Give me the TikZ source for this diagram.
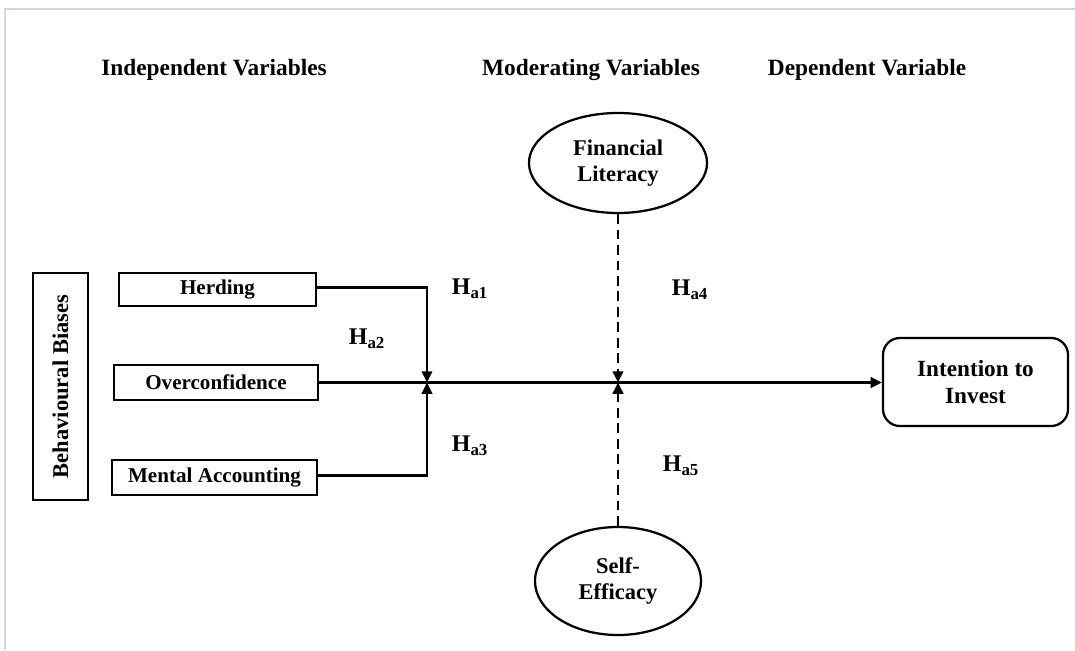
\documentclass[tikz,border=0pt]{standalone}
\usepackage{fontspec}
\setmainfont{Liberation Serif}
\usepackage{tikz}
\usetikzlibrary{shapes.geometric, arrows.meta, positioning, calc}
\definecolor{framegray}{HTML}{D3D7DB}
\newcommand{\hyplabel}[1]{H\textsubscript{\fontsize{12}{13}\selectfont a#1}}

\begin{document}
\begin{tikzpicture}[
    x=0.025cm, y=-0.025cm,
    header/.style={font=\fontsize{16.6}{19}\selectfont\bfseries, anchor=center},
    varbox/.style={rectangle, draw=black, line width=1.6pt, font=\fontsize{15}{17}\selectfont\bfseries, align=center, inner sep=2pt},
    modvar/.style={ellipse, draw=black, line width=1.6pt, font=\fontsize{16}{19}\selectfont\bfseries, align=center, inner sep=0pt},
    hlabel/.style={font=\fontsize{17}{19}\selectfont\bfseries, anchor=center},
    arrow/.style={-{Triangle[length=8pt, width=7.5pt]}, line width=1.6pt, draw=black},
    modarrow/.style={arrow, line width=1.8pt, dash pattern=on 7pt off 4pt}
]
\useasboundingbox (0,0) rectangle (1075,650);
\draw[framegray, line width=1.2pt] (5,650) -- (5,9) -- (1075,9);

\node[header] (indep) at (214,70) {Independent Variables};
\node[header] (moder) at (591,70) {Moderating Variables};
\node[header] (dep) at (867,70) {Dependent Variable};

\node[varbox, minimum width=1.375cm, minimum height=5.675cm] (biases) at (60.5,386.5) {};
\node[rotate=90, font=\fontsize{16}{18}\selectfont\bfseries] at (biases.center) {Behavioural Biases};

\node[varbox, minimum width=4.925cm, minimum height=0.825cm] (herding) at (217.5,289.5) {\raisebox{-2pt}{Herding}};
\node[varbox, minimum width=5.1cm, minimum height=0.875cm] (overconf) at (216,382.5) {Overconfidence};
\node[varbox, minimum width=5.125cm, minimum height=0.875cm] (mental) at (214.5,477.5) {\raisebox{-2pt}{Mental Accounting}};

\node[varbox, rounded corners=12pt, font=\fontsize{16.5}{19.5}\selectfont\bfseries, minimum width=4.625cm, minimum height=2.2cm] (intention) at (975.5,382) {Intention to\\Invest};

\node[modvar, minimum width=4.45cm, minimum height=2.5cm] (finlit) at (618,163) {Financial\\Literacy};
\node[modvar, minimum width=4.15cm, minimum height=2.7cm] (selfeff) at (618,581) {Self-\\Efficacy};

\coordinate (joint) at (427,382.5);
\coordinate (modjoint) at (618,382.5);

\draw[arrow] (overconf.east) -- (intention.west |- overconf.east);
\draw[arrow] ([yshift=0.05cm]herding.east) -| (joint);
\draw[arrow] ([yshift=0.05cm]mental.east) -| (joint);
\draw[modarrow] (finlit.south) -- (modjoint);
\draw[modarrow] (selfeff.north) -- (modjoint);

\node[hlabel] (ha1) at (470,289) {\hyplabel{1}};
\node[hlabel] (ha2) at (367,339) {\hyplabel{2}};
\node[hlabel] (ha3) at (470,446) {\hyplabel{3}};
\node[hlabel] (ha4) at (690,290) {\hyplabel{4}};
\node[hlabel] (ha5) at (681,466) {\hyplabel{5}};
\end{tikzpicture}
\end{document}
